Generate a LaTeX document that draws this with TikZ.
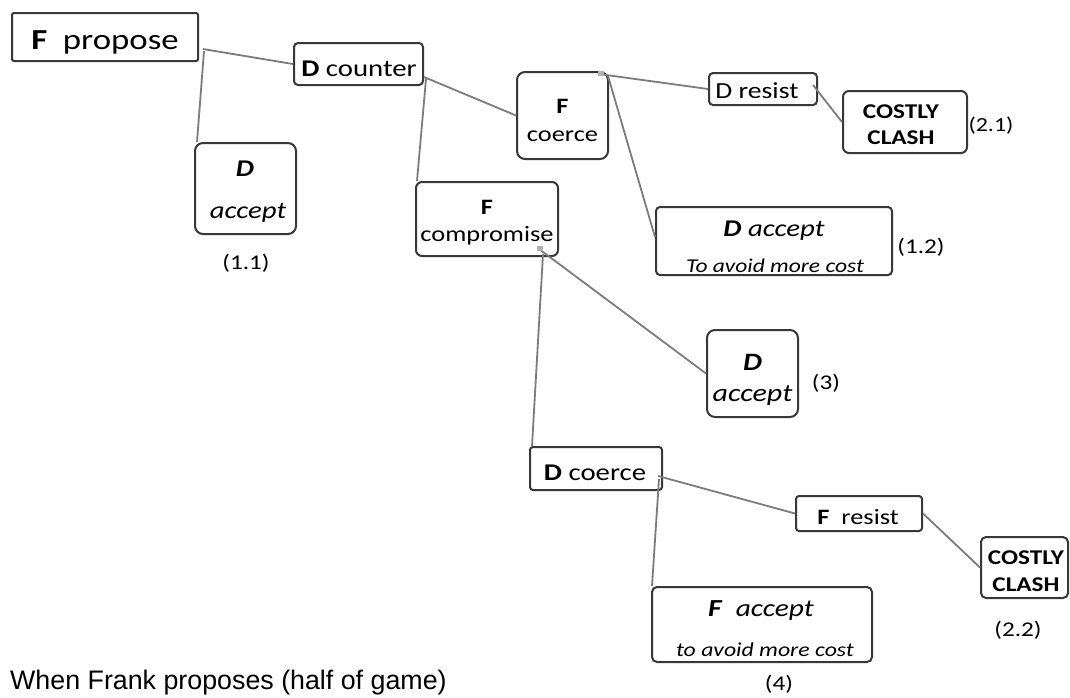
\documentclass[tikz,border=0pt]{standalone}
\usepackage{fontspec}
\setmainfont{Carlito}[FakeStretch=1.2]
\newfontfamily\capfont{Liberation Sans}
\usetikzlibrary{calc}
\newcommand\fsz[1]{\fontsize{#1}{#1}\selectfont}
\definecolor{boxcol}{HTML}{383838}
\definecolor{linecol}{HTML}{7C7C7C}
\definecolor{handlecol}{HTML}{B0B0B0}
\begin{document}
\begin{tikzpicture}[x=1pt,y=-1pt,
  box/.style={draw=boxcol, line width=2pt, rounded corners=#1, inner sep=0pt, fill=white},
  box/.default=4pt,
  txt/.style={anchor=base, inner sep=0pt, text=black},
  conn/.style={draw=linecol, line width=1.8pt},
  handle/.style={fill=handlecol, draw=none, inner sep=0pt, minimum width=6pt, minimum height=5pt}]
\useasboundingbox[fill=white] (0,0) rectangle (1070,697);

% boxes
\node[box=2pt, minimum width=186pt, minimum height=48pt] (propose) at (105,37) {};
\node[box=4pt, minimum width=129pt, minimum height=42pt] (counter) at (358.5,64) {};
\node[box=8pt, minimum width=91pt, minimum height=87pt] (fcoerce) at (562.5,115.5) {};
\node[box=4pt, minimum width=108pt, minimum height=32pt] (dresist) at (763,89) {};
\node[box=6pt, minimum width=124pt, minimum height=62pt] (clashA) at (905,122) {};
\node[box=8pt, minimum width=101pt, minimum height=91pt] (dacceptA) at (245.5,188.5) {};
\node[box=6pt, minimum width=142pt, minimum height=74pt] (compromise) at (487,219) {};
\node[box=4pt, minimum width=236pt, minimum height=68pt] (dacceptB) at (774,241) {};
\node[box=8pt, minimum width=91pt, minimum height=87pt] (dacceptC) at (752.5,373.5) {};
\node[box=3pt, minimum width=132pt, minimum height=43pt] (dcoerce) at (596,468.5) {};
\node[box=3pt, minimum width=126pt, minimum height=35pt] (fresist) at (859,513.5) {};
\node[box=5pt, minimum width=87pt, minimum height=61pt] (clashB) at (1024.5,567.5) {};
\node[box=5pt, minimum width=220pt, minimum height=75pt] (faccept) at (762,624.5) {};

% connectors
\draw[conn] ($(propose.south east)+(4,-13)$) -- (counter.west);
\draw[conn] ($(propose.south east)+(5,-11)$) -- ($(dacceptA.north west)+(3,0)$);
\draw[conn] ($(counter.south east)+(0,-9)$) -- (fcoerce.west);
\draw[conn] ($(counter.south east)+(2,-7)$) -- ($(compromise.north west)+(2,0)$);
\draw[conn] ($(fcoerce.north east)+(-10,3)$) -- (dresist.west);
\draw[conn] ($(fcoerce.north east)+(-1,5)$) -- ($(dacceptB.west)+(0,-4)$);
\draw[conn] ($(dresist.east)+(-5,-4)$) -- (clashA.west);
\draw[conn] ($(compromise.south east)+(-20,-8)$) -- (dacceptC.west);
\draw[conn] ($(compromise.south east)+(-16,-3)$) -- ($(dcoerce.north west)+(3,0)$);
\draw[conn] ($(dcoerce.south east)+(-5,-15)$) -- (fresist.west);
\draw[conn] ($(dcoerce.south east)+(-4,-12)$) -- ($(faccept.north west)+(1,0)$);
\draw[conn] (fresist.east) -- (clashB.west);

% small connection handles
\node[handle] (hA) at ($(fcoerce.north east)+(-8,2)$) {};
\node[handle] (hB) at ($(compromise.south east)+(-19,-9)$) {};

% texts
\node[txt, font=\fsz{29}] (tpropose) at (105,49) {\textbf{F}\ \ propose};
\node[txt, font=\fsz{24}] (tcounter) at (359,76) {\textbf{D} counter};
\node[txt, font=\fsz{22}] (tfc1) at (562.5,113) {\textbf{F}};
\node[txt, font=\fsz{22}] (tfc2) at (562.5,141) {coerce};
\node[txt, font=\fsz{23}] (tdresist) at (757,98) {D resist};
\node[txt, font=\fsz{21}] (tcA1) at (901,118.5) {\textbf{COSTLY}};
\node[txt, font=\fsz{21}] (tcA2) at (901,144.5) {\textbf{CLASH}};
\node[txt, font=\fsz{20}] (lA) at (991,131) {(2.1)};
\node[txt, font=\fsz{24}] (tdaA1) at (245,176) {\textbf{\textit{D}}};
\node[txt, font=\fsz{24}] (tdaA2) at (248,218.5) {\textit{accept}};
\node[txt, font=\fsz{21}] (lB) at (246,269) {(1.1)};
\node[txt, font=\fsz{22}] (tcomp1) at (487,214) {\textbf{F}};
\node[txt, font=\fsz{22}] (tcomp2) at (487,241) {compromise};
\node[txt, font=\fsz{24}] (tdaB1) at (774,236) {\textbf{\textit{D}} \textit{accept}};
\node[txt, font=\fsz{19.6}] (tdaB2) at (775,272.5) {\textit{To avoid more cost}};
\node[txt, font=\fsz{21}] (lC) at (921,253) {(1.2)};
\node[txt, font=\fsz{25}] (tdaC1) at (752.5,370) {\textbf{\textit{D}}};
\node[txt, font=\fsz{25}] (tdaC2) at (752.5,401) {\textit{accept}};
\node[txt, font=\fsz{21}] (lD) at (826,389) {(3)};
\node[txt, font=\fsz{24}] (tdcoerce) at (595,480) {\textbf{D} coerce};
\node[txt, font=\fsz{22}] (tfresist) at (858,524) {\textbf{F}\ \ resist};
\node[txt, font=\fsz{21}] (tcB1) at (1026,564) {\textbf{COSTLY}};
\node[txt, font=\fsz{21}] (tcB2) at (1026,591) {\textbf{CLASH}};
\node[txt, font=\fsz{21}] (lE) at (1018,636) {(2.2)};
\node[txt, font=\fsz{24.5}] (tfa1) at (761,616) {\textbf{\textit{F}}\ \ \textit{accept}};
\node[txt, font=\fsz{19.8}] (tfa2) at (765,656.5) {\textit{to avoid more cost}};
\node[txt, font=\fsz{21}] (lF) at (779,690) {(4)};
\node[txt, anchor=base west, font=\capfont\fsz{26.8}] (caption) at (10,689) {When Frank proposes (half of game)};
\end{tikzpicture}
\end{document}
